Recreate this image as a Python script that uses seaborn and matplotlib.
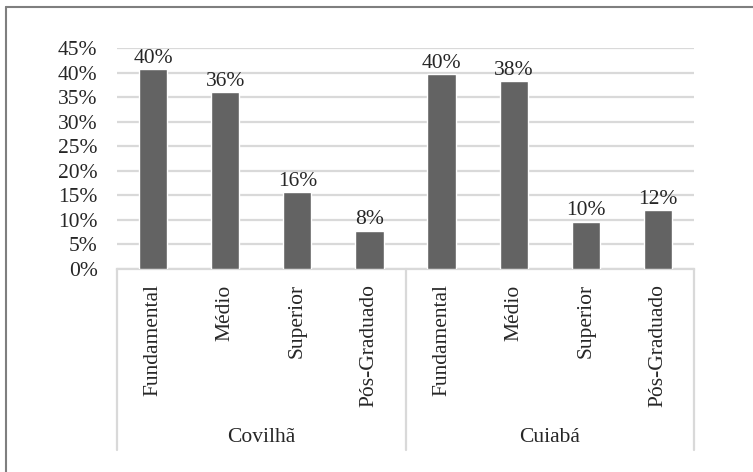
import pandas as pd
import matplotlib
matplotlib.use("Agg")
import matplotlib.pyplot as plt
import matplotlib.transforms as mtransforms
from matplotlib.lines import Line2D
from matplotlib.ticker import PercentFormatter
import seaborn as sns

cities = ["Covilhã", "Cuiabá"]
levels = ["Fundamental", "Médio", "Superior", "Pós-Graduado"]
covilha_values = [0.407, 0.360, 0.157, 0.078]
cuiaba_values = [0.397, 0.383, 0.096, 0.120]
covilha_labels = ["40%", "36%", "16%", "8%"]
cuiaba_labels = ["40%", "38%", "10%", "12%"]
y_ticks = [0, 0.05, 0.10, 0.15, 0.20, 0.25, 0.30, 0.35, 0.40, 0.45]

rows = []
for city, vals in zip(cities, [covilha_values, cuiaba_values]):
    for lvl, v in zip(levels, vals):
        rows.append({"key": city + "|" + lvl, "city": city, "level": lvl, "value": v})
df = pd.DataFrame(rows)
order = df["key"].tolist()

sns.set_style("white")
plt.rcParams["font.family"] = ["Liberation Serif", "DejaVu Serif"]
fs = 15.5
text_color = "#262626"

W, H = 753, 472
fig = plt.figure(figsize=(W / 100, H / 100), dpi=100)
ax = fig.add_axes([117 / W, 1 - 269 / H, (694 - 117) / W, (269 - 48) / H])

sns.barplot(data=df, x="key", y="value", order=order, color="#636363",
            saturation=1, width=0.39, ax=ax, zorder=3)

ax.set_ylim(0, 0.45)
ax.set_xlim(-0.5, len(order) - 0.5)
ax.set_yticks(y_ticks)
ax.yaxis.set_major_formatter(PercentFormatter(1.0, decimals=0))
ax.yaxis.grid(True, color="#d9d9d9", linewidth=1.6, zorder=0)
ax.set_axisbelow(True)
for s in ["top", "right", "left"]:
    ax.spines[s].set_visible(False)
ax.spines["bottom"].set_color("#d9d9d9")
ax.spines["bottom"].set_linewidth(1.6)
ax.tick_params(axis="y", length=0, pad=14, colors=text_color, labelsize=fs)
ax.tick_params(axis="x", length=0, pad=11, colors=text_color, labelsize=fs)
ax.set_xticks(range(len(order)))
ax.set_xticklabels(df["level"].tolist(), rotation=90, va="top", ha="center")
ax.set_xlabel("")
ax.set_ylabel("")

all_labels = covilha_labels + cuiaba_labels
ax.bar_label(ax.containers[0], labels=all_labels, padding=1, color=text_color, fontsize=fs)

# group separators and city names under the category axis
trans = mtransforms.blended_transform_factory(ax.transData, fig.transFigure)
y_top = 1 - 269 / H
y_bot = 1 - 450 / H
n = len(levels)
for xpos in [-0.5, n - 0.5, 2 * n - 0.5]:
    ax.add_line(Line2D([xpos, xpos], [y_top, y_bot], transform=trans,
                       color="#d9d9d9", linewidth=1.6, clip_on=False))
for i, city in enumerate(cities):
    ax.text(i * n + (n - 1) / 2, 1 - 437 / H, city, transform=trans,
            ha="center", va="center", color=text_color, fontsize=fs)

# outer frame (left and top edges)
fig.add_artist(Line2D([6 / W, 6 / W], [0, 1 - 7 / H], transform=fig.transFigure,
                      color="#7f7f7f", linewidth=1.5))
fig.add_artist(Line2D([6 / W, 1], [1 - 7 / H, 1 - 7 / H], transform=fig.transFigure,
                      color="#7f7f7f", linewidth=1.5))

fig.savefig("out.png", dpi=100)
